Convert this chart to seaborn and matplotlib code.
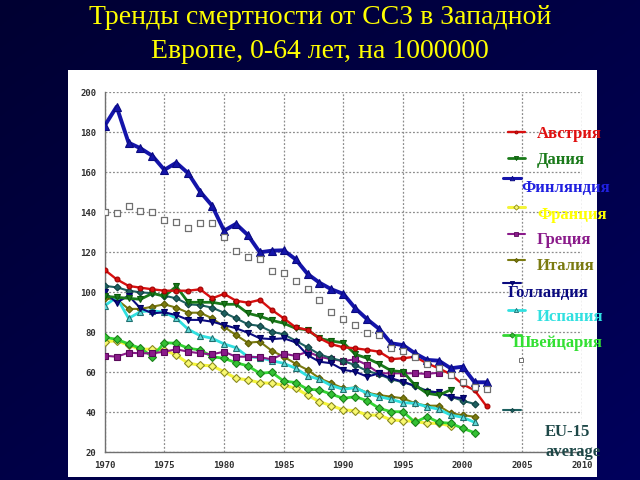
import numpy as np
import pandas as pd
import matplotlib
matplotlib.use("Agg")
import matplotlib.pyplot as plt
from matplotlib.patches import Rectangle
from matplotlib.colors import LinearSegmentedColormap
import seaborn as sns

sns.set_style("white")
plt.rcParams['font.family'] = ['Liberation Serif', 'DejaVu Serif']

title_lines = ["Тренды смертности от ССЗ в Западной", "Европе, 0-64 лет, на 1000000"]

x_ticks = [1970, 1975, 1980, 1985, 1990, 1995, 2000, 2005, 2010]
y_ticks = [20, 40, 60, 80, 100, 120, 140, 160, 180, 200]

start_year = 1970

austria = [111.2, 106.5, 103.2, 102.3, 101.5, 100.8, 100.8, 100.8, 101.5, 97, 99.2, 95.8, 94.8, 96.2,
           91.2, 87, 82.5, 81.2, 77, 74, 72.5, 72, 71.2, 70.3, 66.6, 67, 67.8, 64.5, 62, 59, 54, 51, 43]
denmark = [98, 97.5, 97, 96.5, 99.5, 98, 103, 95, 95, 95, 94, 94, 89.5, 88, 86, 84.5, 82, 81.2, 77,
           75.6, 74.8, 69, 67, 64.2, 60.8, 60.3, 53.6, 49.5, 48.6, 51.2]
finland = [183.3, 192.8, 174.8, 172, 168.2, 161.2, 164.8, 159.5, 150.3, 143.3, 130.8, 134.2, 128.6, 120,
           120.8, 121, 116.5, 109.2, 104.8, 101.5, 99.2, 92, 86.5, 81.7, 74.5, 73.6, 69.5, 66.2, 65.8,
           62, 62.8, 55, 55]
france = [75.3, 75.8, 73.6, 71.5, 71.6, 71.2, 68.6, 64.5, 63.6, 63.2, 60.3, 57, 56.2, 54.8, 54.5, 53.6,
          52, 48.6, 45.3, 43.3, 41.2, 40.8, 38.6, 38.6, 36.2, 35.8, 35.5, 34.5, 34.5, 33.2]
greece = [68.3, 67.8, 69.8, 69.5, 69.5, 70.3, 71.5, 70.3, 69.5, 69, 70.3, 67.8, 67.8, 67.5, 66.5, 69.3,
          68.2, 70.3, 67.8, 66.5, 65.6, 66.5, 63.6, 59.5, 59.5, 59.5, 59.5, 59.2, 59.8]
italy = [97, 96.5, 91.7, 91.7, 92.8, 94, 92.3, 89.8, 89.8, 87, 82.8, 78.6, 74.8, 75.3, 70.8, 67.8, 64.3,
         61.2, 57, 54.5, 52, 52.3, 49.8, 48.6, 47.8, 47, 44.5, 43.3, 43.3, 39.5, 38.6, 37.8]
holland = [100, 94.8, 98.3, 92, 89.5, 90, 88.6, 86.2, 86.2, 85.3, 83.7, 82, 79.8, 77, 76.6, 77, 75, 68.6,
           65.3, 64.5, 61.2, 60.3, 57.8, 59.5, 57, 55.3, 53.2, 50.3, 50, 47.8, 47]
spain = [93.3, 97.5, 87, 90.3, 90.8, 90, 87, 81.5, 78.3, 77, 74.2, 72.3, 67.8, 67.3, 65.8, 64.5, 62, 58.2,
         56.5, 53.3, 51.5, 52.3, 49.5, 47.8, 46.5, 44.8, 44.5, 42.8, 41.5, 38.6, 37.5, 35]
switzerland = [77.5, 76.5, 74.2, 72, 67.8, 74.8, 74.5, 72, 71.2, 67.8, 67, 64.8, 63.2, 59.5, 60, 55.6,
               54.9, 51.5, 51.2, 49, 47, 47.8, 45.8, 42, 40.3, 40.3, 35, 37.8, 35, 34.5, 32, 29.8]
uk = [140.3, 139.5, 143.2, 140.8, 140.3, 136.2, 135, 132, 134.5, 134.5, 127.5, 120.7, 117.8, 116.5, 110.6,
      109.5, 105.8, 101.5, 96.3, 90.3, 86.6, 83.5, 79.5, 78.6, 72, 70.8, 67.8, 64.2, 62, 58.7, 55.3, 52.8, 51.5]
eu15 = [103.2, 102.5, 100.8, 100, 99.5, 98.3, 97, 94, 93.6, 92.3, 89.8, 87, 84, 83.2, 80.3, 79, 75.8, 72.5,
        69, 67, 65.6, 63.6, 60.6, 59, 56.5, 55, 53.2, 50.8, 49.8, 47.8, 45.8, 44.2]

legend_levels = {"Австрия": 180.2, "Дания": 167.2, "Финляндия": 157, "Франция": 142.7, "Греция": 129,
                 "Италия": 116, "Голландия": 104.7, "Испания": 91, "Швейцария": 78.7,
                 "Великобритания": 66, "EU-15 average": 41}

# name, values, color, marker, mfc, mec, lw, ms, draw line
styles = [
    ("Италия", italy, "#7a7a10", "D", "#7a7a10", "#5a5a00", 1.5, 3.5, True),
    ("Франция", france, "#f4f43a", "D", "#f8f870", "#8a8a20", 2.2, 4.5, True),
    ("Швейцария", switzerland, "#33d633", "D", "#33c033", "#1a801a", 2.0, 4.5, True),
    ("Испания", spain, "#30e0e0", "^", "#60d8d8", "#207070", 2.0, 5, True),
    ("Греция", greece, "#8a1a8a", "s", "#8a1a8a", "#5a0a5a", 1.5, 4, True),
    ("EU-15 average", eu15, "#1e6060", "D", "#1e6060", "#0e4040", 1.5, 3.5, True),
    ("Голландия", holland, "#0a0a80", "v", "#0a0a80", "#000060", 1.5, 5, True),
    ("Дания", denmark, "#1a7a1a", "v", "#1a7a1a", "#0a5a0a", 2.0, 5, True),
    ("Австрия", austria, "#d81010", "o", "#d81010", "#a00000", 1.7, 3.5, True),
    ("Великобритания", uk, "#888888", "s", "white", "#707070", 0, 4.5, False),
    ("Финляндия", finland, "#1414aa", "^", "#1414aa", "#0a0a80", 2.8, 5.5, True),
]

W, H = 640, 480
fig = plt.figure(figsize=(6.4, 4.8), dpi=100)

# background gradient
bg = fig.add_axes([0, 0, 1, 1], zorder=-10)
gx = np.linspace(0, 1, 256)
gy = np.linspace(0, 1, 256)
GX, GY = np.meshgrid(gx, gy)
grad = 0.5 * GX + 0.5 * GY
cmap = LinearSegmentedColormap.from_list("bgc", ["#000032", "#00005c"])
bg.imshow(grad, cmap=cmap, aspect="auto", extent=[0, 1, 0, 1], origin="upper")
bg.set_axis_off()

# white panel
fig.add_artist(Rectangle((68 / W, 1 - 477 / H), (597 - 68) / W, (477 - 70) / H,
                         transform=fig.transFigure, facecolor="white", edgecolor="none", zorder=-5))

ax = fig.add_axes([104.7 / W, 1 - 452.3 / H, (582 - 104.7) / W, 360 / H])
ax.set_facecolor("white")

for name, vals, col, mk, mfc, mec, lw, ms, line in styles:
    df = pd.DataFrame({"year": np.arange(start_year, start_year + len(vals)), "value": vals})
    if line:
        sns.lineplot(data=df, x="year", y="value", ax=ax, color=col, lw=lw, marker=mk,
                     markersize=ms, markerfacecolor=mfc, markeredgecolor=mec, markeredgewidth=0.8,
                     zorder=3)
    else:
        sns.scatterplot(data=df, x="year", y="value", ax=ax, marker=mk, s=ms ** 2 * 1.1,
                        facecolor=mfc, edgecolor=mec, linewidth=0.9, zorder=4)

    # legend sample
    lv = legend_levels[name]
    xs = [2003.8, 2005.2]
    if name in ("Финляндия", "Голландия", "Швейцария", "EU-15 average"):
        xs = [2003.4, 2004.9]
    if line:
        ax.plot(xs, [lv, lv], color=col, lw=min(lw, 2.2), zorder=5, clip_on=False)
        ax.plot([np.mean(xs)], [lv], marker=mk, ms=ms * 0.6, mfc=mfc, mec=mec, mew=0.6,
                zorder=6, clip_on=False)
    else:
        ax.plot([2004.9], [lv], marker=mk, ms=ms * 0.75, mfc=mfc, mec=mec, mew=0.7,
                zorder=6, clip_on=False, ls="none")

ax.set_xlim(1970, 2010)
ax.set_ylim(20, 200)
ax.set_xticks(x_ticks)
ax.set_yticks(y_ticks)
ax.set_xticks(np.arange(1970, 2011, 1), minor=True)
ax.set_yticks(np.arange(20, 201, 5), minor=True)
ax.set_xlabel("")
ax.set_ylabel("")
ax.grid(True, which="major", color="#8c8c8c", linestyle=(0, (1.5, 1.5)), linewidth=0.9)
for s in ["top", "right"]:
    ax.spines[s].set_visible(False)
for s in ["left", "bottom"]:
    ax.spines[s].set_color("#707070")
    ax.spines[s].set_linewidth(1.0)
ax.tick_params(which="major", direction="out", length=4, color="#707070", width=0.8)
ax.tick_params(which="minor", direction="out", length=2, color="#707070", width=0.6)
ax.tick_params(axis="both", labelsize=6.5, pad=2)
for lab in ax.get_xticklabels() + ax.get_yticklabels():
    lab.set_fontfamily("DejaVu Sans Mono")
    lab.set_fontweight("bold")
    lab.set_color("#303030")

# title
fig.text(0.5, 1 - 18 / H, title_lines[0], ha="center", va="center", color="#ffff00",
         fontsize=20, fontfamily="Liberation Serif")
fig.text(0.5, 1 - 52 / H, title_lines[1], ha="center", va="center", color="#ffff00",
         fontsize=20, fontfamily="Liberation Serif")

# legend labels
legend_texts = [
    ("Австрия", 537, 134, "#e01010"),
    ("Дания", 537, 160, "#1a7a1a"),
    ("Финляндия", 521, 188, "#2020e0"),
    ("Франция", 537, 215, "#ffff00"),
    ("Греция", 537, 240, "#8a1a8a"),
    ("Италия", 537, 266, "#7a7a10"),
    ("Голландия", 508, 293, "#0a0a80"),
    ("Испания", 537, 317, "#30e0e0"),
    ("Швейцария", 513, 343, "#33e033"),
    ("EU-15", 545, 432, "#1e4848"),
    ("average", 545, 452, "#1e4848"),
]
for txt, px, py, col in legend_texts:
    fig.text(px / W, 1 - py / H, txt, ha="left", va="center", color=col, fontsize=12,
             fontweight="bold", fontfamily="Liberation Serif", zorder=20)

fig.savefig("out.png", dpi=100)
